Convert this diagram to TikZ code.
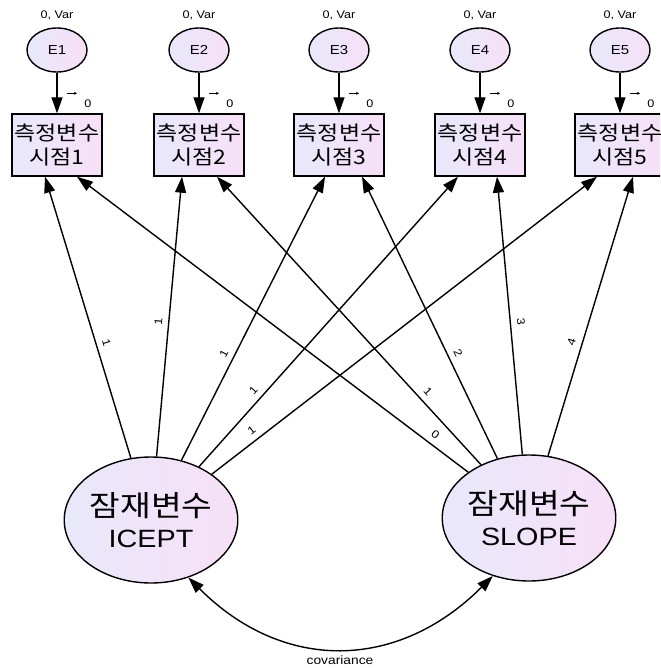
\documentclass[tikz,border=0pt]{standalone}
\usepackage{fontspec}
\setmainfont{Liberation Sans}[FakeStretch=1.15]
\newfontfamily\kr{Noto Sans CJK KR}[FakeStretch=1.15]
\usetikzlibrary{arrows.meta,shapes.geometric}
\definecolor{fillA}{RGB}{232,232,250}
\definecolor{fillB}{RGB}{247,224,247}
\tikzset{
  obsbox/.style={draw=black, line width=1.4pt, left color=fillA, right color=fillB,
    minimum width=90pt, minimum height=62pt, inner sep=0pt, align=center,
    font=\kr\fontsize{20}{24}\selectfont},
  errell/.style={draw=black, line width=1.4pt, ellipse, left color=fillA, right color=fillB,
    minimum width=60pt, minimum height=44pt, inner sep=0pt, font=\fontsize{13}{13}\selectfont},
  latell/.style={draw=black, line width=1.4pt, ellipse, left color=fillA, right color=fillB,
    minimum width=168pt, minimum height=126pt, inner sep=0pt, align=center,
    font=\fontsize{25}{31}\selectfont},
  tip/.tip={Triangle[length=16pt,width=11pt]},
  path/.style={line width=1.4pt, -tip},
  indic/.style={line width=0.6pt, -{Stealth[length=3pt,width=3pt]}},
  smalllab/.style={font=\fontsize{11}{11}\selectfont, inner sep=0pt},
  coef/.style={font=\fontsize{11}{11}\selectfont, sloped, above=6pt, inner sep=0pt},
}
\begin{document}
\begin{tikzpicture}[x=1pt,y=-1pt]
\useasboundingbox (0,0) rectangle (660,668);
\clip (0,0) rectangle (660,668);
\fill[white] (0,0) rectangle (660,668);

% observed boxes and error terms
\foreach \i/\x in {1/57,2/199,3/339,4/480,5/620}{
  \node[obsbox] (b\i) at (\x,145) {측정변수\\시점\i};
  \node[errell] (e\i) at (\x,50) {E\i};
  \node[smalllab] (v\i) at (\x,15) {0, Var};
  \draw[path] (e\i.south) -- (b\i.north);
  \coordinate (ia\i) at ([xshift=10pt,yshift=20pt]b\i.north);
  \coordinate (ib\i) at ([xshift=20pt,yshift=20pt]b\i.north);
  \draw[indic] (ia\i) -- (ib\i);
  \node[smalllab] (z\i) at ([xshift=31pt,yshift=10pt]b\i.north) {0};
}

% latent variables
\node[latell] (ic) at (151,520) {{\kr\fontsize{29}{31}\selectfont 잠재변수}\\ICEPT};
\node[latell] (sl) at (529,518) {{\kr\fontsize{29}{31}\selectfont 잠재변수}\\SLOPE};

% ICEPT loadings
\draw[path] (ic.108) -- node[coef, pos=0.40] {1} ([xshift=-12pt]b1.south);
\draw[path] (ic.85)  -- node[coef, pos=0.48] {1} ([xshift=-17pt]b2.south);
\draw[path] (ic.63)  -- node[coef, pos=0.36] {1} ([xshift=-14pt]b3.south);
\draw[path] (ic.48)  -- node[coef, pos=0.24] {1} ([xshift=-22pt]b4.south);
\draw[path] (ic.37)  -- node[coef, pos=0.12] {1} ([xshift=-23pt]b5.south);

% SLOPE loadings
\draw[path] (sl.143.5) -- node[coef, pos=0.10] {0} ([xshift=20pt]b1.south);
\draw[path] (sl.132) -- node[coef, pos=0.23] {1} ([xshift=18pt]b2.south);
\draw[path] (sl.118) -- node[coef, pos=0.36] {2} ([xshift=23pt]b3.south);
\draw[path] (sl.96)  -- node[coef, pos=0.475] {3} ([xshift=17pt]b4.south);
\draw[path] (sl.73)  -- node[coef, pos=0.395] {4} ([xshift=13pt]b5.south);

% covariance
\draw[line width=1.4pt, tip-tip]
  (ic.-57) .. controls +(95,95) and +(-95,95) .. (sl.-122);
\node[font=\fontsize{12}{12}\selectfont, inner sep=0pt] (cv) at (340,660) {covariance};
\end{tikzpicture}
\end{document}
